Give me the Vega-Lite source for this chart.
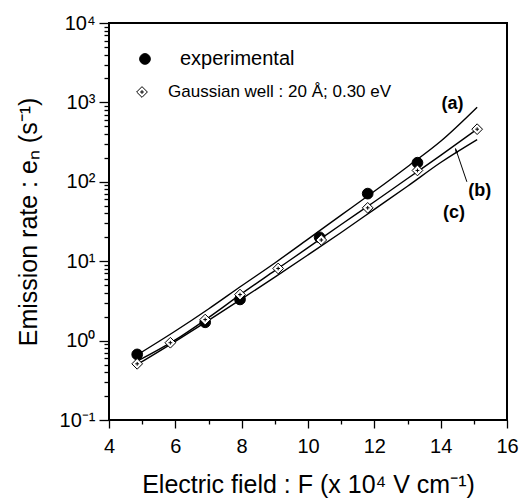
{
  "$schema": "https://vega.github.io/schema/vega-lite/v6.json",
  "width": 398,
  "height": 397,
  "autosize": {"type": "none"},
  "padding": {"left": 109, "top": 23, "right": 15, "bottom": 79},
  "background": "white",
  "config": {
    "font": "Liberation Sans",
    "view": {"stroke": "black", "strokeWidth": 2},
    "axis": {
      "grid": false,
      "domain": false,
      "zindex": 1,
      "tickColor": "black",
      "tickWidth": 1.3,
      "labelColor": "black",
      "titleColor": "black",
      "labelFont": "Liberation Sans",
      "titleFont": "Liberation Sans",
      "labelFontSize": 20,
      "titleFontSize": 25,
      "titleFontWeight": "normal",
      "labelFlush": false,
      "labelOverlap": false,
      "labelBound": false
    }
  },
  "resolve": {"axis": {"x": "independent", "y": "independent"}},
  "datasets": {
    "curves": [
      {"F": 4.85, "e": 0.66, "curve": "a"},
      {"F": 6, "e": 1.32, "curve": "a"},
      {"F": 7, "e": 2.5, "curve": "a"},
      {"F": 8, "e": 4.9, "curve": "a"},
      {"F": 9, "e": 9.5, "curve": "a"},
      {"F": 10, "e": 19, "curve": "a"},
      {"F": 11, "e": 38, "curve": "a"},
      {"F": 12, "e": 76, "curve": "a"},
      {"F": 13, "e": 155, "curve": "a"},
      {"F": 14, "e": 324, "curve": "a"},
      {"F": 15.1, "e": 870, "curve": "a"},
      {"F": 4.85, "e": 0.55, "curve": "b"},
      {"F": 6, "e": 1.02, "curve": "b"},
      {"F": 7, "e": 1.95, "curve": "b"},
      {"F": 8, "e": 3.9, "curve": "b"},
      {"F": 9, "e": 7.6, "curve": "b"},
      {"F": 10, "e": 14.8, "curve": "b"},
      {"F": 11, "e": 29, "curve": "b"},
      {"F": 12, "e": 56, "curve": "b"},
      {"F": 13, "e": 110, "curve": "b"},
      {"F": 14, "e": 215, "curve": "b"},
      {"F": 15.1, "e": 460, "curve": "b"},
      {"F": 4.85, "e": 0.5, "curve": "c"},
      {"F": 6, "e": 0.98, "curve": "c"},
      {"F": 7, "e": 1.8, "curve": "c"},
      {"F": 8, "e": 3.35, "curve": "c"},
      {"F": 9, "e": 6.3, "curve": "c"},
      {"F": 10, "e": 12, "curve": "c"},
      {"F": 11, "e": 23, "curve": "c"},
      {"F": 12, "e": 45, "curve": "c"},
      {"F": 13, "e": 88, "curve": "c"},
      {"F": 14, "e": 175, "curve": "c"},
      {"F": 15.1, "e": 340, "curve": "c"}
    ],
    "points": [
      {"F": 4.85, "e": 0.67, "series": "experimental"},
      {"F": 6.9, "e": 1.7, "series": "experimental"},
      {"F": 7.95, "e": 3.3, "series": "experimental"},
      {"F": 10.35, "e": 20, "series": "experimental"},
      {"F": 11.8, "e": 71, "series": "experimental"},
      {"F": 13.3, "e": 174, "series": "experimental"},
      {"F": 4.85, "e": 0.51, "series": "Gaussian well : 20 Å; 0.30 eV"},
      {"F": 5.85, "e": 0.94, "series": "Gaussian well : 20 Å; 0.30 eV"},
      {"F": 6.9, "e": 1.84, "series": "Gaussian well : 20 Å; 0.30 eV"},
      {"F": 7.95, "e": 3.8, "series": "Gaussian well : 20 Å; 0.30 eV"},
      {"F": 9.1, "e": 8.1, "series": "Gaussian well : 20 Å; 0.30 eV"},
      {"F": 10.4, "e": 18.5, "series": "Gaussian well : 20 Å; 0.30 eV"},
      {"F": 11.8, "e": 47, "series": "Gaussian well : 20 Å; 0.30 eV"},
      {"F": 13.3, "e": 139, "series": "Gaussian well : 20 Å; 0.30 eV"},
      {"F": 15.1, "e": 460, "series": "Gaussian well : 20 Å; 0.30 eV"}
    ],
    "labels": [
      {"F": 14.36, "e": 960, "text": "(a)"},
      {"F": 15.18, "e": 76, "text": "(b)"},
      {"F": 14.4, "e": 40, "text": "(c)"}
    ]
  },
  "layer": [
    {
      "data": {"name": "curves"},
      "mark": {"type": "line", "color": "black", "strokeWidth": 1.4, "interpolate": "monotone"},
      "encoding": {
        "x": {
          "field": "F",
          "type": "quantitative",
          "scale": {"domain": [4, 16], "nice": false, "zero": false},
          "axis": {
            "orient": "bottom",
            "title": "Electric field : F (x 10⁴ V cm⁻¹)",
            "values": [4, 6, 8, 10, 12, 14, 16],
            "tickSize": 8,
            "labelPadding": 8,
            "titlePadding": 16
          }
        },
        "y": {
          "field": "e",
          "type": "quantitative",
          "scale": {"type": "log", "domain": [0.1, 10000], "nice": false},
          "axis": {
            "orient": "left",
            "title": "Emission rate : eₙ (s⁻¹)",
            "values": [0.1, 1, 10, 100, 1000, 10000],
            "labelExpr": "datum.value == 10000 ? '10⁴' : datum.value == 1000 ? '10³' : datum.value == 100 ? '10²' : datum.value == 10 ? '10¹' : datum.value == 1 ? '10⁰' : '10⁻¹'",
            "tickSize": 10,
            "labelPadding": 4,
            "titlePadding": 18
          }
        },
        "detail": {"field": "curve"}
      }
    },
    {
      "data": {"name": "points"},
      "mark": {"type": "point", "filled": true, "stroke": "black", "strokeWidth": 1, "opacity": 1, "size": 115},
      "encoding": {
        "x": {
          "field": "F",
          "type": "quantitative",
          "axis": {"orient": "bottom", "values": [5, 7, 9, 11, 13, 15], "tickSize": 4, "labels": false, "title": null}
        },
        "y": {
          "field": "e",
          "type": "quantitative",
          "axis": {
            "orient": "left",
            "values": [0.2, 0.3, 0.4, 0.5, 0.6, 0.7, 0.8, 0.9, 2, 3, 4, 5, 6, 7, 8, 9, 20, 30, 40, 50, 60, 70, 80, 90, 200, 300, 400, 500, 600, 700, 800, 900, 2000, 3000, 4000, 5000, 6000, 7000, 8000, 9000],
            "tickSize": 5,
            "labels": false,
            "title": null
          }
        },
        "shape": {
          "field": "series",
          "type": "nominal",
          "scale": {
            "domain": ["experimental", "Gaussian well : 20 Å; 0.30 eV"],
            "range": ["circle", "M0,-1L1,0L0,1L-1,0Z M-0.35,0L0.35,0 M0,-0.35L0,0.35"]
          },
          "legend": null
        },
        "fill": {
          "field": "series",
          "type": "nominal",
          "scale": {
            "domain": ["experimental", "Gaussian well : 20 Å; 0.30 eV"],
            "range": ["black", "white"]
          },
          "legend": null
        }
      }
    },
    {
      "data": {"values": [{}]},
      "mark": {"type": "point", "shape": "circle", "filled": true, "fill": "black", "stroke": "black", "strokeWidth": 1, "opacity": 1, "size": 115},
      "encoding": {
        "x": {"datum": 5.085, "type": "quantitative", "axis": null},
        "y": {"datum": 3525, "type": "quantitative", "axis": null}
      }
    },
    {
      "data": {"values": [{}]},
      "mark": {"type": "point", "shape": "M0,-1L1,0L0,1L-1,0Z M-0.35,0L0.35,0 M0,-0.35L0,0.35", "filled": true, "fill": "white", "stroke": "black", "strokeWidth": 1, "opacity": 1, "size": 115},
      "encoding": {
        "x": {"datum": 4.995, "type": "quantitative", "axis": null},
        "y": {"datum": 1352, "type": "quantitative", "axis": null}
      }
    },
    {
      "data": {"values": [{}]},
      "mark": {"type": "text", "text": "experimental", "fontSize": 20, "align": "left", "baseline": "middle", "color": "black", "font": "Liberation Sans"},
      "encoding": {
        "x": {"datum": 6.14, "type": "quantitative", "axis": null},
        "y": {"datum": 3525, "type": "quantitative", "axis": null}
      }
    },
    {
      "data": {"values": [{}]},
      "mark": {"type": "text", "text": "Gaussian well : 20 Å; 0.30 eV", "fontSize": 17, "align": "left", "baseline": "middle", "color": "black", "font": "Liberation Sans"},
      "encoding": {
        "x": {"datum": 5.78, "type": "quantitative", "axis": null},
        "y": {"datum": 1352, "type": "quantitative", "axis": null}
      }
    },
    {
      "data": {"name": "labels"},
      "mark": {"type": "text", "fontSize": 18, "fontWeight": "bold", "color": "black", "font": "Liberation Sans"},
      "encoding": {
        "x": {"field": "F", "type": "quantitative", "axis": null},
        "y": {"field": "e", "type": "quantitative", "axis": null},
        "text": {"field": "text"}
      }
    },
    {
      "data": {"values": [{}]},
      "mark": {"type": "rule", "color": "black", "strokeWidth": 1},
      "encoding": {
        "x": {"datum": 14.79, "type": "quantitative", "axis": null},
        "y": {"datum": 100, "type": "quantitative", "axis": null},
        "x2": {"datum": 14.45},
        "y2": {"datum": 262}
      }
    },
    {
      "data": {"values": [{}]},
      "mark": {"type": "point", "shape": "M0,0L-0.4,1.8L0.4,1.8Z", "filled": true, "color": "black", "opacity": 1, "size": 40, "angle": 339.4},
      "encoding": {
        "x": {"datum": 14.43, "type": "quantitative", "axis": null},
        "y": {"datum": 268, "type": "quantitative", "axis": null}
      }
    }
  ]
}
